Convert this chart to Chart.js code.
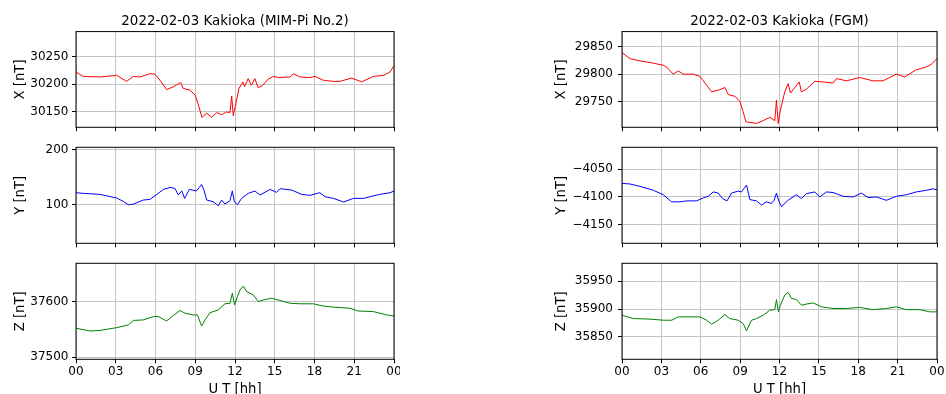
<!DOCTYPE html>
<html>
<head>
<meta charset="utf-8">
<script src="https://cdn.jsdelivr.net/npm/chart.js@4.4.1/dist/chart.umd.min.js"></script>
<style>
  html, body { margin: 0; padding: 0; background: #fff; }
  #wrap { position: relative; width: 946px; height: 394px; overflow: hidden; }
  #wrap canvas { position: absolute; }
</style>
</head>
<body>
<div id="wrap"></div>
<script>
// axis labels
const hourTicks = [0, 3, 6, 9, 12, 15, 18, 21, 24];
const hourLabels = ['00', '03', '06', '09', '12', '15', '18', '21', '00'];
const titles = ['2022-02-03 Kakioka (MIM-Pi No.2)', '2022-02-03 Kakioka (FGM)'];
const compNames = ['X [nT]', 'Y [nT]', 'Z [nT]'];

// MIM-Pi No.2  (hour, nT)
const mimXHours = [0, 0.55, 1.81, 3.07, 3.82, 4.33, 4.83, 5.33, 5.58, 5.96, 6.34, 6.84, 7.35, 7.9, 8.1, 8.6, 8.99, 9.24, 9.5, 9.87, 10.25, 10.62, 11.0, 11.37, 11.62, 11.75, 11.87, 12.07, 12.3, 12.6, 12.72, 12.99, 13.24, 13.5, 13.75, 14.1, 14.5, 14.9, 15.3, 16.15, 16.4, 16.9, 17.66, 18.04, 18.67, 19.42, 19.92, 20.8, 21.56, 22.44, 23.2, 23.7, 24];
const mimX = [30222, 30214, 30213, 30216, 30205, 30214, 30213, 30217, 30219, 30218, 30207, 30190, 30195, 30203, 30192, 30189, 30180, 30162, 30139, 30147, 30139, 30148, 30144, 30149, 30148, 30178, 30142, 30165, 30192, 30204, 30195, 30210, 30198, 30210, 30193, 30198, 30209, 30214, 30212, 30213, 30219, 30213, 30212, 30214, 30207, 30205, 30205, 30211, 30204, 30214, 30216, 30222, 30234];

const mimYHours = [0, 0.55, 1.81, 3.07, 3.57, 3.95, 4.33, 5.08, 5.58, 6.1, 6.6, 7.1, 7.47, 7.72, 7.98, 8.2, 8.55, 9.1, 9.3, 9.48, 9.66, 9.86, 10.36, 10.74, 10.99, 11.24, 11.62, 11.8, 11.95, 12.18, 12.5, 13.0, 13.5, 13.89, 14.64, 15.14, 15.4, 16.28, 17.03, 17.66, 18.4, 18.8, 19.43, 20.2, 20.93, 21.7, 22.19, 22.94, 23.7, 24];
const mimY = [121.7, 120.5, 118.7, 112, 106, 100, 101, 108.4, 109.6, 118.7, 127.7, 131.3, 129.5, 117.5, 125, 111.4, 127.7, 125, 131, 136.7, 126.5, 108.4, 105.4, 98, 108.4, 101.2, 107.2, 125, 105.4, 100, 111.4, 120.5, 124.7, 117.5, 127.7, 122.3, 129, 126.5, 118.7, 116.9, 121.7, 114.5, 111.4, 104.8, 111.4, 111.4, 114.5, 118.7, 121.7, 124.7];

const mimZHours = [0, 1.06, 1.81, 3.07, 3.95, 4.33, 5.08, 5.84, 6.21, 6.84, 7.35, 7.85, 8.23, 8.86, 9.16, 9.48, 9.74, 10.11, 10.74, 11.24, 11.62, 11.8, 11.97, 12.18, 12.38, 12.63, 12.88, 13.38, 13.76, 14.13, 14.77, 15.4, 16.15, 16.9, 17.91, 18.67, 19.42, 20.68, 21.3, 22.44, 23.45, 24];
const mimZ = [37552, 37547, 37548, 37553, 37558, 37566, 37567, 37573, 37573, 37565, 37575, 37584, 37579, 37576, 37576, 37556, 37567, 37580, 37585, 37596, 37597, 37615, 37594, 37609, 37621, 37628, 37618, 37612, 37600, 37603, 37606, 37602, 37597, 37596, 37596, 37592, 37590, 37588, 37583, 37582, 37576, 37574];

// FGM  (hour, nT)
const fgmXHours = [0, 0.61, 1.37, 2.39, 3.15, 3.4, 3.9, 4.29, 4.67, 5.43, 5.94, 6.45, 6.83, 7.46, 7.84, 8.1, 8.6, 8.98, 9.23, 9.44, 10.25, 10.75, 11.26, 11.64, 11.77, 11.9, 12.07, 12.4, 12.66, 12.84, 13.17, 13.5, 13.67, 14.05, 14.69, 15.32, 16.08, 16.34, 17.1, 18.11, 19.12, 19.89, 20.9, 21.54, 22.42, 23.19, 23.57, 24];
const fgmX = [29839, 29828, 29824, 29820, 29816, 29813, 29800, 29806, 29800, 29800, 29796, 29780, 29768, 29772, 29776, 29763, 29760, 29751, 29732, 29714, 29711, 29716, 29722, 29716, 29753, 29711, 29735, 29768, 29783, 29766, 29776, 29786, 29768, 29773, 29787, 29786, 29784, 29792, 29788, 29794, 29788, 29788, 29800, 29795, 29808, 29813, 29818, 29828];

const fgmYHours = [0, 0.61, 1.37, 2.39, 3.15, 3.78, 4.41, 4.92, 5.68, 6.19, 6.57, 6.95, 7.33, 7.66, 8.0, 8.34, 8.85, 9.1, 9.49, 9.74, 10.25, 10.63, 11.01, 11.39, 11.59, 11.77, 11.97, 12.15, 12.66, 13.29, 13.67, 14.05, 14.69, 15.07, 15.57, 16.08, 16.85, 17.61, 18.24, 18.75, 19.38, 20.14, 20.9, 21.66, 22.42, 23.19, 23.69, 24];
const fgmY = [-4075.6, -4076.7, -4081, -4088, -4096, -4108.7, -4108.7, -4107, -4107, -4101.7, -4098.8, -4091, -4093, -4103, -4107, -4093, -4089.5, -4091, -4078.5, -4104.7, -4107, -4114.5, -4108.7, -4111.6, -4105.8, -4093, -4108.7, -4117.4, -4105.8, -4096, -4103, -4094, -4091, -4100, -4091, -4092, -4098.8, -4100, -4093, -4101, -4100, -4106, -4098.8, -4096, -4091, -4088, -4085.5, -4087];

const fgmZHours = [0, 0.86, 2.13, 3.15, 3.78, 4.29, 5.18, 5.94, 6.45, 6.83, 7.33, 7.84, 8.2, 8.85, 9.23, 9.49, 9.87, 10.25, 10.76, 11.26, 11.64, 11.77, 11.92, 12.07, 12.4, 12.66, 12.91, 13.29, 13.67, 14.05, 14.56, 15.2, 16.08, 17.1, 18.11, 19.12, 20.14, 20.9, 21.66, 22.68, 23.44, 24];
const fgmZ = [35889, 35883, 35882, 35880, 35880, 35886, 35886, 35886, 35880, 35873, 35880, 35890, 35883, 35880, 35874, 35861, 35880, 35883, 35889, 35898, 35899, 35917, 35895, 35907, 35925, 35930, 35919, 35917, 35907, 35909, 35911, 35904, 35901, 35901, 35903, 35899, 35901, 35904, 35899, 35899, 35895, 35895];

// panel setup: column, row, data, axis range
const panels = [
    { col: 0, row: 0, hours: mimXHours, values: mimX, color: '#ff0000', min: 30121, max: 30296, step: 50 },
    { col: 0, row: 1, hours: mimYHours, values: mimY, color: '#0000ff', min: 30, max: 204, step: 100 },
    { col: 0, row: 2, hours: mimZHours, values: mimZ, color: '#008000', min: 37496, max: 37669, step: 100 },
    { col: 1, row: 0, hours: fgmXHours, values: fgmX, color: '#ff0000', min: 29704, max: 29877, step: 50 },
    { col: 1, row: 1, hours: fgmYHours, values: fgmY, color: '#0000ff', min: -4183, max: -4011, step: 50 },
    { col: 1, row: 2, hours: fgmZHours, values: fgmZ, color: '#008000', min: 35810, max: 35982, step: 50 }
];

const colLeft = [0, 546];
const colPadRight = [6, 9];
const colTitlePad = [13, 8];
const colTickPad = [3.5, 5];
const rowTop = [0, 140, 256];
const rowHeight = [140, 116, 141];
const rowPadTop = [0, 7.3, 7.3];
const rowAxisHeight = [12.7, 12.7, 37.7];

const FONT = 'DejaVu Sans';

// black box round the plot area
const framePlugin = {
    id: 'frame',
    afterDraw(chart) {
        const a = chart.chartArea;
        const ctx = chart.ctx;
        ctx.save();
        ctx.strokeStyle = '#000';
        ctx.lineWidth = 1;
        ctx.strokeRect(a.left, a.top, a.right - a.left, a.bottom - a.top);
        ctx.restore();
    }
};

const wrap = document.getElementById('wrap');

panels.forEach(p => {
    const canvas = document.createElement('canvas');
    canvas.width = 400;
    canvas.height = rowHeight[p.row];
    canvas.style.left = colLeft[p.col] + 'px';
    canvas.style.top = rowTop[p.row] + 'px';
    canvas.style.width = '400px';
    canvas.style.height = rowHeight[p.row] + 'px';
    wrap.appendChild(canvas);

    const isBottom = p.row === 2;

    new Chart(canvas.getContext('2d'), {
        type: 'line',
        data: {
            datasets: [{
                data: p.hours.map((h, i) => ({ x: h, y: p.values[i] })),
                borderColor: p.color,
                borderWidth: 1,
                pointRadius: 0,
                tension: 0,
                fill: false
            }]
        },
        plugins: [framePlugin],
        options: {
            responsive: false,
            animation: false,
            devicePixelRatio: 1,
            layout: {
                padding: { top: rowPadTop[p.row], right: colPadRight[p.col], bottom: 0, left: 0 }
            },
            plugins: {
                legend: { display: false },
                tooltip: { enabled: false },
                title: {
                    display: p.row === 0,
                    text: titles[p.col],
                    fullSize: false,
                    color: '#000',
                    font: { family: FONT, size: 13.4, weight: 'normal', lineHeight: 1.2 },
                    padding: { top: 13.5, bottom: 2 }
                }
            },
            scales: {
                x: {
                    type: 'linear',
                    min: 0,
                    max: 24,
                    afterBuildTicks: scale => { scale.ticks = hourTicks.map(v => ({ value: v })); },
                    afterFit: scale => {
                        scale.height = rowAxisHeight[p.row];
                        scale.paddingLeft = 0;
                        scale.paddingRight = 0;
                    },
                    ticks: {
                        color: '#000',
                        font: { family: FONT, size: 12 },
                        padding: 1,
                        maxRotation: 0,
                        autoSkip: false,
                        callback: (v, i) => isBottom ? hourLabels[i] : ''
                    },
                    grid: {
                        color: '#c4c4c4',
                        lineWidth: 1,
                        tickColor: '#000',
                        tickLength: 4
                    },
                    border: { display: false },
                    title: {
                        display: isBottom,
                        text: 'U T [hh]',
                        color: '#000',
                        font: { family: FONT, size: 13.2, lineHeight: 1.2 },
                        padding: 0
                    }
                },
                y: {
                    type: 'linear',
                    min: p.min,
                    max: p.max,
                    afterFit: scale => {
                        scale.width = 76;
                        scale.paddingTop = 0;
                        scale.paddingBottom = 0;
                    },
                    ticks: {
                        stepSize: p.step,
                        includeBounds: false,
                        color: '#000',
                        font: { family: FONT, size: 12 },
                        padding: colTickPad[p.col],
                        callback: v => String(v).replace('-', '\u2212')
                    },
                    grid: {
                        color: '#c4c4c4',
                        lineWidth: 1,
                        tickColor: '#000',
                        tickLength: 4
                    },
                    border: { display: false },
                    title: {
                        display: true,
                        text: compNames[p.row],
                        color: '#000',
                        font: { family: FONT, size: 13.2, lineHeight: 1.2 },
                        padding: { top: colTitlePad[p.col], bottom: 0 }
                    }
                }
            }
        }
    });
});
</script>
</body>
</html>
